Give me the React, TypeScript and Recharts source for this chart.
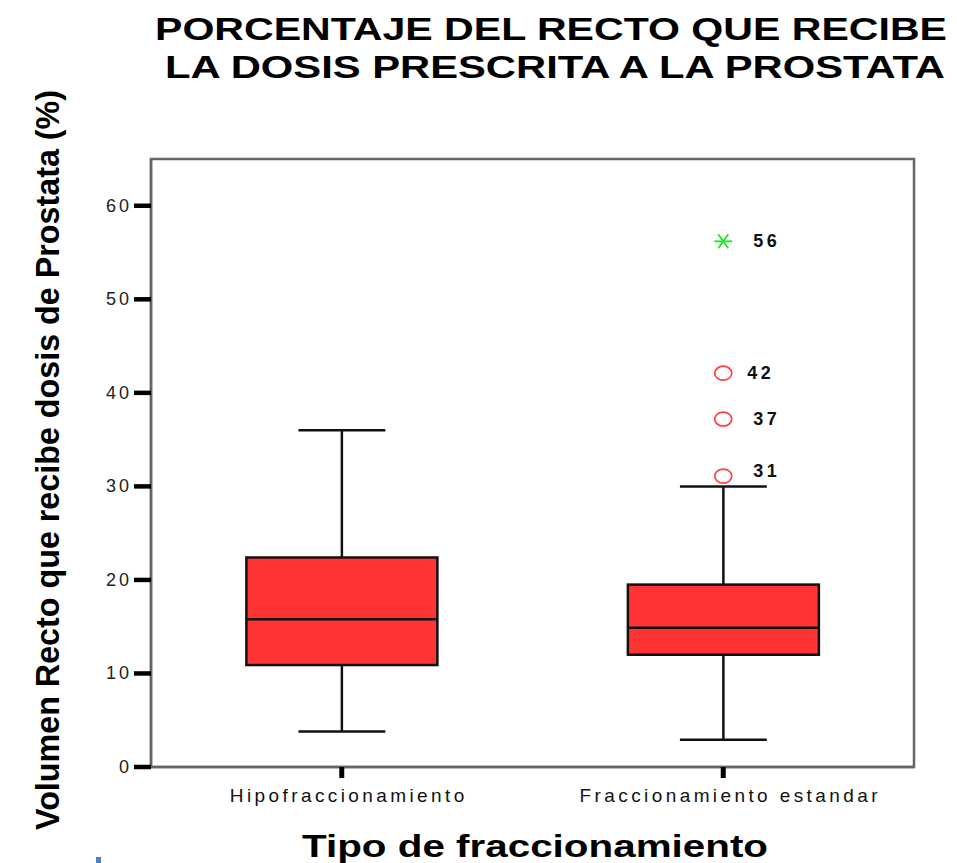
import { ComposedChart, Bar, Line, XAxis, YAxis, ReferenceArea, LabelList } from "recharts";

const categories = ["Hipofraccionamiento", "Fraccionamiento estandar"];
const whiskerLow = [3.8, 2.9];
const q1 = [10.9, 12.0];
const median = [15.8, 14.9];
const q3 = [22.4, 19.5];
const whiskerHigh = [36.0, 30.0];

// outliers of the second group, labelled with their case number
const outlierValues = [31.1, 37.2, 42.1];
const outlierCases = ["31", "37", "42"];
const extremeValue = 56.2;
const extremeCase = "56";

const yTicks = [0, 10, 20, 30, 40, 50, 60];

const data = categories.map((name, i) => {
  const row: any = {
    name,
    range: [whiskerLow[i], whiskerHigh[i]],
    q1: q1[i],
    median: median[i],
    q3: q3[i],
  };
  outlierValues.forEach((v, k) => {
    row[`out${k}`] = i === 1 ? v : null;
  });
  row.ext = i === 1 ? extremeValue : null;
  return row;
});

const FONT = "'Liberation Sans', Arial, sans-serif";

function BoxShape(props: any) {
  const { x, y, width, height, payload } = props;
  if (x == null || y == null || !payload) return null;
  const [lo, hi] = payload.range;
  const top = Math.min(y, y + height);
  const bottom = Math.max(y, y + height);
  const py = (v: number) => bottom - ((v - lo) / (hi - lo)) * (bottom - top);
  const cx = x + width / 2;
  const cap = width * 0.455;
  const s = { stroke: "#111", strokeWidth: 2.5 };
  return (
    <g>
      <line x1={cx} x2={cx} y1={py(hi)} y2={py(payload.q3)} {...s} />
      <line x1={cx} x2={cx} y1={py(payload.q1)} y2={py(lo)} {...s} />
      <line x1={cx - cap / 2} x2={cx + cap / 2} y1={py(hi)} y2={py(hi)} {...s} />
      <line x1={cx - cap / 2} x2={cx + cap / 2} y1={py(lo)} y2={py(lo)} {...s} />
      <rect
        x={x}
        y={py(payload.q3)}
        width={width}
        height={py(payload.q1) - py(payload.q3)}
        fill="#ff3434"
        {...s}
      />
      <line x1={x} x2={x + width} y1={py(payload.median)} y2={py(payload.median)} {...s} />
    </g>
  );
}

const ringDot = (p: any) => {
  if (p.value == null || p.cy == null) return <g key={p.key ?? p.index} />;
  return (
    <ellipse key={p.key ?? p.index} cx={p.cx} cy={p.cy} rx={8.5} ry={7} fill="none" stroke="#ff4040" strokeWidth={1.7} />
  );
};

const starDot = (p: any) => {
  if (p.value == null || p.cy == null) return <g key={p.key ?? p.index} />;
  const { cx, cy } = p;
  return (
    <g key={p.key ?? p.index} stroke="#22e622" strokeWidth={1.8}>
      <line x1={cx - 9} x2={cx + 9} y1={cy} y2={cy} />
      <line x1={cx - 5} x2={cx + 5} y1={cy - 7} y2={cy + 7} />
      <line x1={cx - 5} x2={cx + 5} y1={cy + 7} y2={cy - 7} />
    </g>
  );
};

const caseLabel = (text: string, dx: number, dy: number) => (p: any) => {
  if (p.value == null || p.y == null) return null;
  return (
    <text
      x={p.x + dx}
      y={p.y + dy}
      fontFamily={FONT}
      fontWeight="bold"
      fontSize={18}
      letterSpacing={3.5}
      fill="#111"
    >
      {text}
    </text>
  );
};

const labelShift = [[30, 1], [30, 6], [24, 6]];

const YTick = (p: any) => (
  <text x={p.x} y={p.y} dy={6} textAnchor="end" fontFamily={FONT} fontSize={18} letterSpacing={3} fill="#222">
    {p.payload.value}
  </text>
);

const XTick = (p: any) => (
  <text x={p.x + 7} y={p.y} dy={22} textAnchor="middle" fontFamily={FONT} fontSize={19} letterSpacing={3.4} fill="#111">
    {p.payload.value}
  </text>
);

export default function App() {
  return (
    <div style={{ position: "absolute", left: 0, top: 0, width: 957, height: 863, background: "#fff" }}>
      <ComposedChart
        width={957}
        height={863}
        data={data}
        margin={{ top: 159, right: 43, bottom: 56, left: 91 }}
        barCategoryGap="25%"
      >
        <ReferenceArea y1={0} y2={65} fill="none" stroke="#666" strokeWidth={2.5} ifOverflow="visible" />
        <XAxis
          dataKey="name"
          height={40}
          tickSize={11}
          axisLine={{ stroke: "#666", strokeWidth: 2.5 }}
          tickLine={{ stroke: "#000", strokeWidth: 5 }}
          tick={<XTick />}
        />
        <YAxis
          type="number"
          domain={[0, 65]}
          ticks={yTicks}
          width={60}
          tickSize={17}
          axisLine={{ stroke: "#666", strokeWidth: 2.5 }}
          tickLine={{ stroke: "#000", strokeWidth: 4.5 }}
          tick={<YTick />}
        />
        <Bar dataKey="range" shape={<BoxShape />} isAnimationActive={false} legendType="none" />
        {outlierValues.map((_, k) => (
          <Line
            key={k}
            dataKey={`out${k}`}
            stroke="none"
            dot={ringDot}
            activeDot={false}
            isAnimationActive={false}
            legendType="none"
          >
            <LabelList content={caseLabel(outlierCases[k], labelShift[k][0], labelShift[k][1])} />
          </Line>
        ))}
        <Line dataKey="ext" stroke="none" dot={starDot} activeDot={false} isAnimationActive={false} legendType="none">
          <LabelList content={caseLabel(extremeCase, 30, 6)} />
        </Line>
      </ComposedChart>
      <svg width={957} height={863} style={{ position: "absolute", left: 0, top: 0, pointerEvents: "none" }}>
        <text x={155} y={40} fontFamily={FONT} fontWeight="bold" fontSize={32} textLength={792} lengthAdjust="spacingAndGlyphs" fill="#000">
          PORCENTAJE DEL RECTO QUE RECIBE
        </text>
        <text x={165} y={78} fontFamily={FONT} fontWeight="bold" fontSize={32} textLength={780} lengthAdjust="spacingAndGlyphs" fill="#000">
          LA DOSIS PRESCRITA A LA PROSTATA
        </text>
        <text x={302} y={857} fontFamily={FONT} fontWeight="bold" fontSize={32} textLength={466} lengthAdjust="spacingAndGlyphs" fill="#000">
          Tipo de fraccionamiento
        </text>
        <text
          transform="translate(59 830) rotate(-90)"
          fontFamily="'Liberation Sans Narrow', 'Arial Narrow', 'Liberation Sans', sans-serif"
          fontWeight="bold"
          fontSize={33}
          textLength={740}
          lengthAdjust="spacingAndGlyphs"
          fill="#000"
        >
          Volumen Recto que recibe dosis de Prostata (%)
        </text>
      </svg>
      <div style={{ position: "absolute", left: 96, top: 857, width: 5, height: 6, background: "#4f81bd" }} />
    </div>
  );
}
